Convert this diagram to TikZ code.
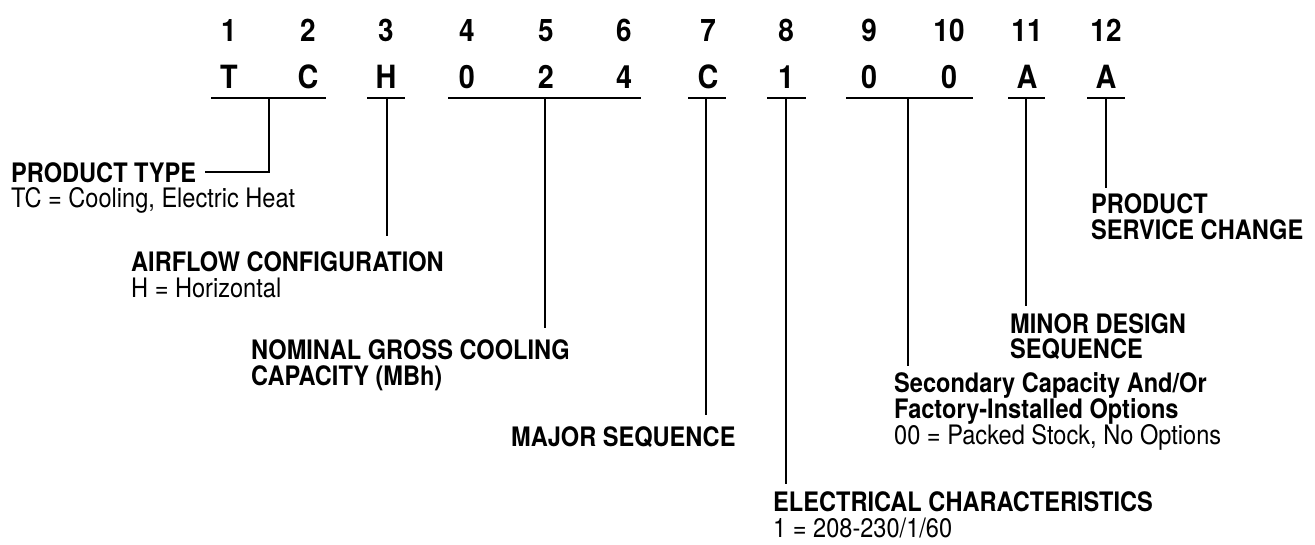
\documentclass[tikz,border=0pt]{standalone}
\usepackage{fontspec}
\setmainfont[FakeStretch=0.88]{TeX Gyre Heros}
\newfontfamily\codefont[FakeStretch=0.9]{TeX Gyre Heros}
\begin{document}
\begin{tikzpicture}[x=1pt,y=-1pt,
  dig/.style={font=\codefont\fontsize{31}{31}\selectfont\bfseries, inner sep=0pt, anchor=base},
  chr/.style={font=\codefont\fontsize{32}{32}\selectfont\bfseries, inner sep=0pt, anchor=base},
  ul/.style={line width=2.8pt},
  conn/.style={line width=2.3pt},
  ttl/.style={font=\fontsize{26.8}{28}\selectfont\bfseries, inner sep=0pt, anchor=base west},
  dsc/.style={font=\fontsize{26.8}{28}\selectfont, inner sep=0pt, anchor=base west},
]
\useasboundingbox (0,0) rectangle (1315,544);

% position digits and code characters
\foreach \i/\x/\c in {1/229/T, 2/308/C, 3/386/H, 4/467/0, 5/546/2, 6/624/4,
                      7/708/C, 8/786/1, 9/869/0, 10/949/0, 11/1027/A, 12/1106/A}{
  \node[dig] (d\i) at (\x,41) {\i};
  \node[chr] (c\i) at (\x,88) {\c};
}

% underlines
\draw[ul] (211,98) -- (326,98);
\draw[ul] (367,98) -- (405,98);
\draw[ul] (448,98) -- (641,98);
\draw[ul] (688,98) -- (726,98);
\draw[ul] (767,98) -- (806,98);
\draw[ul] (846,98) -- (973,98);
\draw[ul] (1008,98) -- (1045,98);
\draw[ul] (1087,98) -- (1125,98);

% labels
\node[ttl] (pt1) at (11,182) {PRODUCT TYPE};
\node[dsc] (pt2) at (11,207) {TC = Cooling, Electric Heat};
\node[ttl] (af1) at (131,271) {AIRFLOW CONFIGURATION};
\node[dsc] (af2) at (131,297) {H = Horizontal};
\node[ttl] (ng1) at (251,359) {NOMINAL GROSS COOLING};
\node[ttl] (ng2) at (251,385) {CAPACITY (MBh)};
\node[ttl] (ms)  at (511,446) {MAJOR SEQUENCE};
\node[ttl] (ec1) at (773,511) {ELECTRICAL CHARACTERISTICS};
\node[dsc] (ec2) at (773,537.5) {1 = 208-230/1/60};
\node[ttl] (sc1) at (894,392) {Secondary Capacity And/Or};
\node[ttl] (sc2) at (894,418) {Factory-Installed Options};
\node[dsc] (sc3) at (894,444) {00 = Packed Stock, No Options};
\node[ttl] (md1) at (1010,333) {MINOR DESIGN};
\node[ttl] (md2) at (1010,358) {SEQUENCE};
\node[ttl] (ps1) at (1091,213) {PRODUCT};
\node[ttl] (ps2) at (1091,239) {SERVICE CHANGE};

% connector start and end points
\coordinate (uTC) at (269,98);
\coordinate (eTC) at (205,172);
\coordinate (uH)  at (387,98);   \coordinate (eH)  at (387,236);
\coordinate (uN)  at (545,98);   \coordinate (eN)  at (545,328);
\coordinate (uC)  at (706,98);   \coordinate (eC)  at (706,415);
\coordinate (uE)  at (786,98);   \coordinate (eE)  at (786,484);
\coordinate (uS)  at (908,98);   \coordinate (eS)  at (908,366);
\coordinate (uM)  at (1026,98);  \coordinate (eM)  at (1026,306);
\coordinate (uP)  at (1106,98);  \coordinate (eP)  at (1106,188);

\draw[conn] (uTC) |- (eTC);
\draw[conn] (uH) -- (eH);
\draw[conn] (uN) -- (eN);
\draw[conn] (uC) -- (eC);
\draw[conn] (uE) -- (eE);
\draw[conn] (uS) -- (eS);
\draw[conn] (uM) -- (eM);
\draw[conn] (uP) -- (eP);
\end{tikzpicture}
\end{document}
